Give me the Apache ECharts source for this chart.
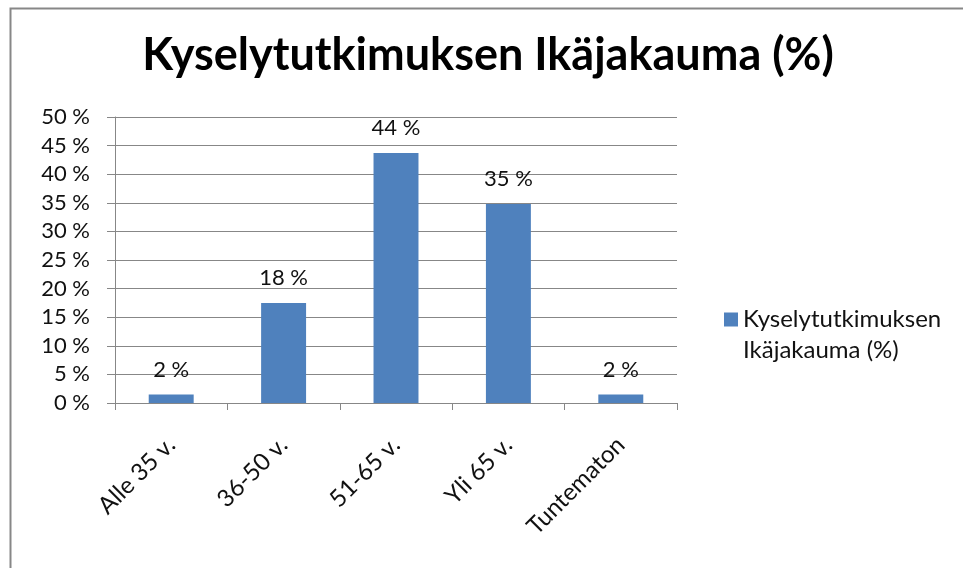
<!DOCTYPE html>
<html>
<head>
<meta charset="utf-8">
<script src="https://cdn.jsdelivr.net/npm/echarts@6/dist/echarts.min.js"></script>
<style>html,body{margin:0;padding:0;background:#fff;}#c{width:963px;height:568px;}</style>
</head>
<body>
<div id="c"></div>
<script>
var titleText = 'Kyselytutkimuksen Ikäjakauma (%)';
var seriesName = 'Kyselytutkimuksen Ikäjakauma (%)';
var categories = ['Alle 35 v.', '36-50 v.', '51-65 v.', 'Yli 65 v.', 'Tuntematon'];
var values = [1.5, 17.5, 43.7, 34.8, 1.5];
var valueLabels = ['2 %', '18 %', '44 %', '35 %', '2 %'];
var yMin = 0, yMax = 50, yStep = 5;

var FONT = 'Lato';
var chart = echarts.init(document.getElementById('c'), null, {renderer: 'canvas'});
chart.setOption({
  animation: false,
  backgroundColor: '#fff',
  title: {
    text: titleText,
    left: 483,
    top: 28,
    textAlign: 'center',
    textStyle: {fontFamily: FONT, fontWeight: 'bold', fontSize: 45, color: '#000'}
  },
  graphic: [{
    type: 'rect', left: 8, top: 6, silent: true,
    shape: {x: 0, y: 0, width: 1100, height: 1100},
    style: {fill: 'none', stroke: '#878787', lineWidth: 2}
  }],
  legend: {
    left: 719, top: 268,
    itemWidth: 14, itemHeight: 14,
    icon: 'rect',
    formatter: function (n) { return '\n' + n.replace(' ', '\n'); },
    textStyle: {fontFamily: FONT, fontSize: 24, lineHeight: 31, color: '#111'}
  },
  grid: {left: 115, right: 286, top: 117, bottom: 165, containLabel: false, outerBoundsMode: 'none'},
  xAxis: {
    type: 'category',
    data: categories,
    axisLine: {lineStyle: {color: '#878787', width: 1}},
    axisTick: {show: true, length: 7, lineStyle: {color: '#878787'}},
    axisLabel: {rotate: 45, margin: 38, interval: 0, fontFamily: FONT, fontSize: 24, color: '#111'}
  },
  yAxis: {
    type: 'value',
    min: yMin, max: yMax, interval: yStep,
    axisLine: {show: true, lineStyle: {color: '#878787', width: 1}},
    axisTick: {show: true, length: 8, lineStyle: {color: '#878787'}},
    splitLine: {lineStyle: {color: '#878787', width: 1}},
    axisLabel: {margin: 25, fontFamily: FONT, fontSize: 22, color: '#111', formatter: '{value} %'}
  },
  series: [{
    name: seriesName,
    type: 'bar',
    data: values,
    barWidth: '40%',
    itemStyle: {color: '#4F81BD'},
    label: {
      show: true, position: 'top', distance: 14,
      fontFamily: FONT, fontSize: 22, color: '#111',
      formatter: function (p) { return valueLabels[p.dataIndex]; }
    }
  }]
});
</script>
</body>
</html>
